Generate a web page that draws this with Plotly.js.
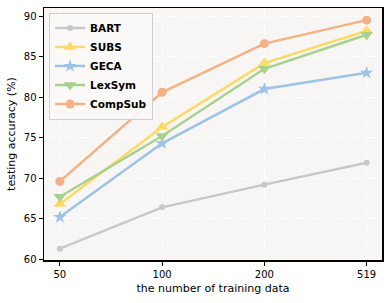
<!DOCTYPE html>
<html><head><meta charset="utf-8">
<script src="https://cdn.plot.ly/plotly-3.0.1.min.js"></script>
<style>html,body{margin:0;padding:0;background:#fff}#c{width:391px;height:303px}</style>
</head><body><div id="c"></div>
<script>
const categories = ["50", "100", "200", "519"];
const bart = [61.3, 66.4, 69.2, 71.9];
const subs = [66.8, 76.3, 84.2, 88.2];
const geca = [65.2, 74.3, 81.0, 83.0];
const lexsym = [67.7, 75.2, 83.5, 87.7];
const compsub = [69.6, 80.6, 86.6, 89.5];
const names = ["BART", "SUBS", "GECA", "LexSym", "CompSub"];

const series = [bart, subs, geca, lexsym, compsub];
const colors = ["#c8c8c8", "#ffd966", "#9dc3e6", "#a9d18e", "#f4b183"];
const symbols = ["circle", "triangle-up", "star", "triangle-down", "circle"];
const sizes = [6, 11, 10, 11, 9];

const traces = series.map((ys, i) => ({
  x: categories, y: ys, name: names[i], type: "scatter", mode: "lines+markers",
  line: {color: colors[i], width: 2.5},
  marker: {color: colors[i], symbol: symbols[i], size: sizes[i]}
}));

const font = {family: "DejaVu Sans", size: 10, color: "#000"};
const layout = {
  width: 391, height: 303,
  margin: {l: 44, r: 9, t: 8, b: 43},
  paper_bgcolor: "#fff", plot_bgcolor: "#f7f6f4",
  font: font,
  showlegend: true,
  legend: {x: 0.015, y: 0.982, xanchor: "left", yanchor: "top",
    bgcolor: "rgba(250,249,248,0.9)", bordercolor: "#d0d0d0", borderwidth: 1,
    font: {family: "DejaVu Sans", size: 10.5, weight: "bold", color: "#000"},
    tracegroupgap: 0, itemwidth: 30},
  xaxis: {type: "category", range: [-0.155, 3.15],
    showline: true, linecolor: "#000", linewidth: 1.5, mirror: true,
    ticks: "outside", ticklen: 4, tickcolor: "#000",
    showgrid: true, gridcolor: "#ffffff", griddash: "dash", gridwidth: 1,
    zeroline: false,
    title: {text: "the number of training data", font: {family: "DejaVu Sans", size: 11}, standoff: 6}},
  yaxis: {range: [59.9, 91], tickvals: [60, 65, 70, 75, 80, 85, 90],
    showline: true, linecolor: "#000", linewidth: 1.5, mirror: true,
    ticks: "outside", ticklen: 4, tickcolor: "#000",
    showgrid: true, gridcolor: "#ffffff", griddash: "dash", gridwidth: 1,
    zeroline: false,
    title: {text: "testing accuracy (%)", font: {family: "DejaVu Sans", size: 11}, standoff: 6}}
};
Plotly.newPlot("c", traces, layout, {displayModeBar: false, staticPlot: true});
</script></body></html>
